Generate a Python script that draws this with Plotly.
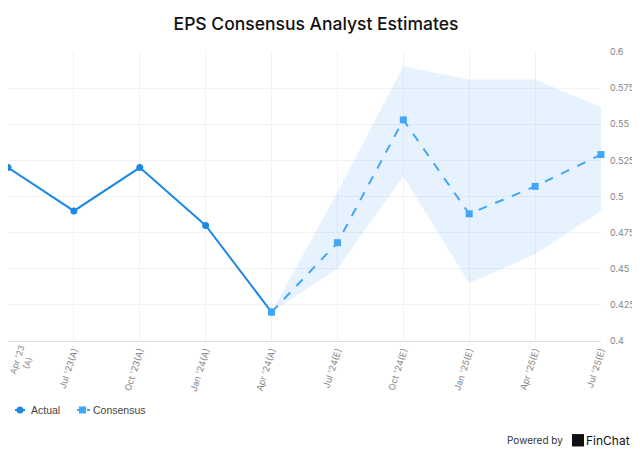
import plotly.graph_objects as go

categories = ["Apr '23<br>(A)", "Jul '23(A)", "Oct '23(A)", "Jan '24(A)", "Apr '24(A)",
              "Jul '24(E)", "Oct '24(E)", "Jan '25(E)", "Apr '25(E)", "Jul '25(E)"]
actual_idx = [0, 1, 2, 3, 4]
actual_vals = [0.52, 0.49, 0.52, 0.48, 0.42]
cons_idx = [4, 5, 6, 7, 8, 9]
cons_vals = [0.42, 0.468, 0.553, 0.488, 0.507, 0.529]
cons_high = [0.42, 0.503, 0.59, 0.581, 0.581, 0.562]
cons_low = [0.42, 0.45, 0.514, 0.44, 0.46, 0.49]
y_ticks = [0.4, 0.425, 0.45, 0.475, 0.5, 0.525, 0.55, 0.575, 0.6]
legend_names = ["Actual", "Consensus"]

ACTUAL_C = "#1E88E5"
CONS_C = "#42A5F5"
TICK_C = "#858585"

# The page body adds an 8px offset; size the figure so the visible window matches.
W, H = 632, 446
PW, PH = 593, 289  # plot area in px


def px_x(p):
    return p / PW


def px_y(p):
    return p / PH


fig = go.Figure()
fig.add_trace(go.Scatter(x=cons_idx, y=cons_high, mode="lines", line=dict(width=0),
                         showlegend=False, hoverinfo="skip"))
fig.add_trace(go.Scatter(x=cons_idx, y=cons_low, mode="lines", line=dict(width=0),
                         fill="tonexty", fillcolor="rgba(100,181,246,0.16)",
                         showlegend=False, hoverinfo="skip"))
fig.add_trace(go.Scatter(x=actual_idx, y=actual_vals, mode="lines+markers", name=legend_names[0],
                         line=dict(color=ACTUAL_C, width=2),
                         marker=dict(symbol="circle", size=7, color=ACTUAL_C),
                         cliponaxis=False, showlegend=False))
fig.add_trace(go.Scatter(x=cons_idx, y=cons_vals, mode="lines+markers", name=legend_names[1],
                         line=dict(color=CONS_C, width=2, dash="dash"),
                         marker=dict(symbol="square", size=7, color=CONS_C),
                         cliponaxis=False, showlegend=False))

# custom compact legend (page y 410 -> paper)
ly = -px_y(402 - 333)
legend_shapes = [
    dict(type="line", xref="paper", yref="paper", x0=px_x(7), x1=px_x(17), y0=ly, y1=ly,
         line=dict(color=ACTUAL_C, width=2)),
    dict(type="circle", xref="paper", yref="paper", x0=px_x(8.5), x1=px_x(15.5),
         y0=ly - px_y(3.5), y1=ly + px_y(3.5), fillcolor=ACTUAL_C, line=dict(width=0)),
    dict(type="line", xref="paper", yref="paper", x0=px_x(69), x1=px_x(74), y0=ly, y1=ly,
         line=dict(color=CONS_C, width=2)),
    dict(type="line", xref="paper", yref="paper", x0=px_x(79), x1=px_x(82), y0=ly, y1=ly,
         line=dict(color=CONS_C, width=2)),
    dict(type="rect", xref="paper", yref="paper", x0=px_x(71), x1=px_x(78),
         y0=ly - px_y(3.5), y1=ly + px_y(3.5), fillcolor=CONS_C, line=dict(width=0)),
]

tick_text = [""] + categories[1:]

fig.update_layout(
    width=W, height=H,
    margin=dict(l=0, r=39, t=44, b=113, autoexpand=False),
    paper_bgcolor="white", plot_bgcolor="white",
    showlegend=False,
    title=dict(text="EPS Consensus Analyst Estimates", x=308 / W, xanchor="center",
               y=1 - 16 / H, yanchor="middle",
               font=dict(family="Inter", size=17.5, color="#111111", weight=500)),
    font=dict(family="Inter", color="#666666"),
    xaxis=dict(tickmode="array", tickvals=list(range(len(categories))), ticktext=tick_text,
               range=[0, 9], tickangle=-72, tickfont=dict(size=9, color=TICK_C),
               showgrid=True, gridcolor="#F2F2F2", zeroline=False, automargin=False,
               showline=True, linecolor="#E0E0E0", ticks=""),
    yaxis=dict(side="right", range=[0.4, 0.6], tickvals=y_ticks,
               ticktext=[f"{v:g}" for v in y_ticks], automargin=False,
               tickfont=dict(size=9, color=TICK_C),
               showgrid=True, gridcolor="#F2F2F2", zeroline=False, ticks="",
               ticklabelstandoff=8),
    annotations=[
        dict(text=categories[0], xref="paper", yref="paper", x=px_x(14), y=-px_y(20),
             xanchor="center", yanchor="middle", textangle=-72, showarrow=False,
             align="center", font=dict(size=8.5, color=TICK_C)),
        dict(text=legend_names[0], xref="paper", yref="paper", x=px_x(21), y=ly,
             xanchor="left", yanchor="middle", showarrow=False,
             font=dict(family="Liberation Sans", size=10.5, color="#444444")),
        dict(text=legend_names[1], xref="paper", yref="paper", x=px_x(83), y=ly,
             xanchor="left", yanchor="middle", showarrow=False,
             font=dict(family="Liberation Sans", size=10.5, color="#444444")),
        dict(text="Powered by", xref="paper", yref="paper", x=px_x(557), y=-0.343,
             xanchor="right", yanchor="middle", showarrow=False,
             font=dict(size=10, color="#333333")),
        dict(text="FinChat", xref="paper", yref="paper", x=px_x(624), y=-0.343,
             xanchor="right", yanchor="middle", showarrow=False,
             font=dict(size=12, color="#111111")),
    ],
    shapes=legend_shapes + [
        dict(type="rect", xref="paper", yref="paper", x0=px_x(564), x1=px_x(576),
             y0=-0.365, y1=-0.322, fillcolor="#111111", line=dict(width=0)),
    ],
)

fig.write_html("out.html")
